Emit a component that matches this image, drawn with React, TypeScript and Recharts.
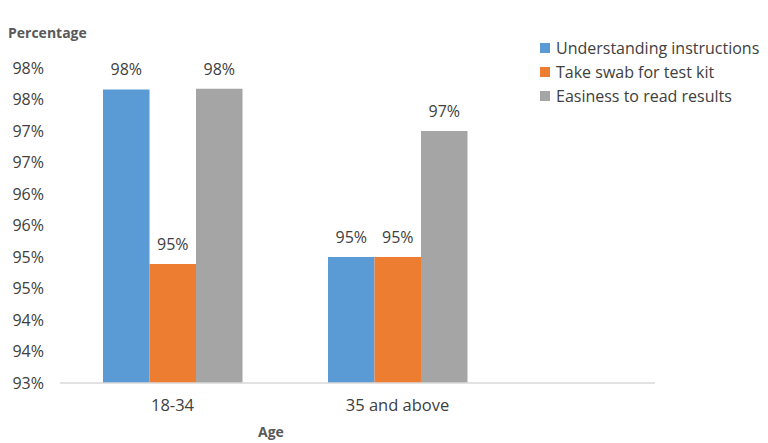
import { BarChart, Bar, XAxis, YAxis, LabelList } from 'recharts';

const categories = ['18-34', '35 and above'];
const understanding = [97.66, 95.0];
const takeSwab = [94.89, 95.0];
const easiness = [97.67, 97.0];
const yTicks = [93, 93.5, 94, 94.5, 95, 95.5, 96, 96.5, 97, 97.5, 98];

const series = [
  { key: 'understanding', name: 'Understanding instructions', color: '#5B9BD5' },
  { key: 'takeSwab', name: 'Take swab for test kit', color: '#ED7D31' },
  { key: 'easiness', name: 'Easiness to read results', color: '#A5A5A5' },
];

const FONT = '"Open Sans", "Noto Sans", sans-serif';
const pct = (v: number) => `${Math.round(v)}%`;

export default function App() {
  const data = categories.map((c, i) => ({
    age: c,
    understanding: understanding[i],
    takeSwab: takeSwab[i],
    easiness: easiness[i],
  }));

  return (
    <div style={{ position: 'absolute', left: 0, top: 0, width: 768, height: 443, background: '#fff', fontFamily: FONT }}>
      <BarChart
        width={768}
        height={443}
        data={data}
        margin={{ top: 68, right: 113, left: 0, bottom: 0 }}
        barGap={0}
        barSize={46.5}
      >
        <XAxis
          dataKey="age"
          height={60}
          padding={{ left: 0, right: 145 }}
          axisLine={{ stroke: '#D9D9D9', strokeWidth: 1.5 }}
          tickLine={false}
          tickSize={0}
          tickMargin={16}
          tick={{ fill: '#404040', fontSize: 16.5, fontFamily: FONT }}
        />
        <YAxis
          width={60}
          domain={[93, 98]}
          ticks={yTicks}
          interval={0}
          allowDataOverflow
          axisLine={false}
          tickLine={false}
          tickSize={0}
          tickMargin={16}
          tickFormatter={pct}
          tick={{ fill: '#404040', fontSize: 16, fontFamily: FONT }}
        />
        {series.map(s => (
          <Bar key={s.key} dataKey={s.key} fill={s.color} isAnimationActive={false}>
            <LabelList
              dataKey={s.key}
              position="top"
              offset={14}
              formatter={(v: any) => pct(Number(v))}
              style={{ fill: '#404040', fontSize: 16, fontFamily: FONT }}
            />
          </Bar>
        ))}
      </BarChart>

      <div style={{ position: 'absolute', left: 8, top: 23, fontSize: 14, fontWeight: 700, color: '#595959' }}>
        Percentage
      </div>
      <div style={{ position: 'absolute', left: 258, top: 422, fontSize: 14, fontWeight: 700, color: '#595959' }}>
        Age
      </div>

      <div style={{ position: 'absolute', left: 540, top: 36 }}>
        {series.map(s => (
          <div key={s.key} style={{ display: 'flex', alignItems: 'center', height: 24, fontSize: 16, color: '#404040' }}>
            <span style={{ display: 'inline-block', width: 10, height: 10, background: s.color, marginRight: 6 }} />
            {s.name}
          </div>
        ))}
      </div>
    </div>
  );
}
